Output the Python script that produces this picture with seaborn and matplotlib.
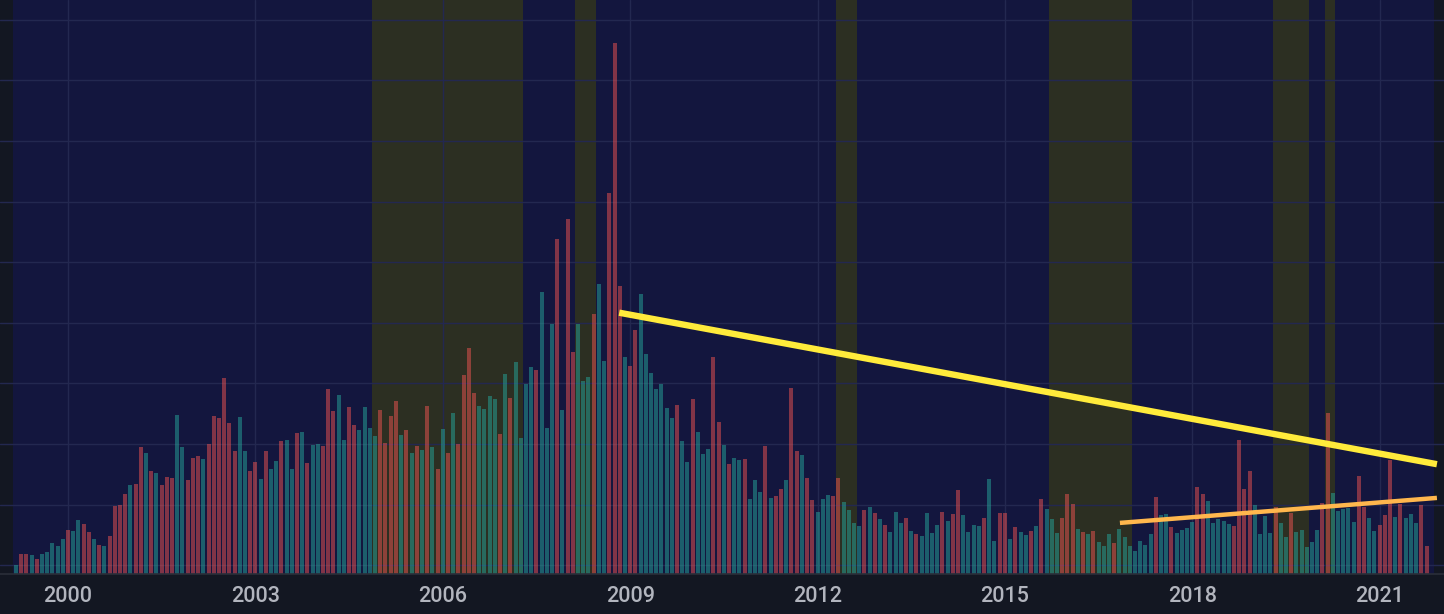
import matplotlib
matplotlib.use("Agg")
import matplotlib.pyplot as plt
import numpy as np
import pandas as pd
import seaborn as sns

# monthly volume bars, first bar = Mar 1999 (month index -10, Jan 2000 = 0)
first_month = -10
volume = [
    9, 20, 20, 19, 15, 20, 22, 31, 28, 35, 44, 43, 54, 50, 42, 35, 29, 28, 38, 68,
    69, 80, 89, 90, 127, 121, 103, 101, 89, 97, 96, 159, 127, 94, 116, 118, 115, 130, 158, 156,
    196, 151, 123, 157, 123, 103, 112, 95, 123, 105, 113, 133, 134, 105, 141, 142, 111, 129, 130, 128,
    185, 163, 179, 134, 167, 149, 144, 167, 146, 138, 164, 131, 158, 173, 139, 144, 121, 128, 124, 168,
    127, 105, 145, 121, 161, 130, 199, 226, 181, 168, 165, 178, 175, 140, 200, 176, 212, 136, 190, 207,
    204, 282, 146, 250, 335, 164, 355, 222, 250, 193, 197, 260, 290, 213, 381, 531, 288, 217, 208, 244,
    280, 220, 201, 185, 190, 166, 156, 169, 133, 112, 175, 142, 120, 125, 217, 152, 129, 110, 116, 114,
    115, 75, 94, 82, 128, 76, 78, 85, 94, 186, 123, 119, 96, 74, 62, 75, 79, 78, 96, 72,
    64, 51, 48, 64, 67, 61, 55, 49, 42, 62, 51, 56, 43, 40, 38, 61, 41, 49, 62, 53,
    60, 84, 59, 42, 49, 48, 56, 95, 33, 61, 61, 35, 47, 42, 39, 43, 48, 75, 65, 55,
    41, 56, 80, 70, 45, 42, 40, 43, 32, 28, 40, 31, 45, 37, 28, 23, 33, 29, 40, 77,
    59, 60, 47, 41, 44, 46, 52, 87, 80, 73, 51, 55, 53, 50, 48, 134, 85, 103, 69, 40,
    58, 41, 67, 51, 37, 61, 42, 44, 27, 32, 44, 71, 161, 81, 63, 65, 66, 52, 98, 67,
    56, 43, 49, 59, 114, 57, 70, 56, 60, 51, 69, 28,
]
# t = up month (teal), r = down month (red); rows match the volume rows
direction = "".join([
    "trrtrtttttrttrrtrtrr",
    "rrtrrtrtrrrttrrrtrrr",
    "rrrttrrtrttrttrtrttr",
    "rrttrrttttrrrrtrtrtr",
    "trtrtrrrrttttrtrtttt",
    "rtttrtrrtttrttrrrtrr",
    "tttttttrttrtttrrtrtt",
    "rtttrtrrtrrtrrtttrrt",
    "tttrtrtrtttrtrttttrt",
    "rrttttrttrrtrttrtrtt",
    "trrrtrtrtttrtttttttr",
    "ttrttttrrtttttrrrrtt",
    "ttrttrtttttrrtttttrr",
    "ttrrrtrtttrr",
])

# shaded periods (month index, bar edges)
shade_start = [58.5, 97.5, 147.5, 188.5, 231.5, 241.5]
shade_end = [87.5, 101.5, 151.5, 204.5, 238.5, 243.5]

# trend lines (month index, volume level)
yellow_x = [105.9, 263.0]
yellow_y = [260.8, 109.3]
orange_x = [202.1, 263.0]
orange_y = [50.6, 75.6]

year_labels = ["2000", "2003", "2006", "2009", "2012", "2015", "2018", "2021"]

TEAL = "#26a69a"
RED = "#ef5350"
BG = "#131722"
NAVY = "#13163e"
OLIVE = "#2c2f22"

n = len(volume)
df = pd.DataFrame({
    "month": np.arange(first_month, first_month + n),
    "volume": volume,
    "dir": list(direction),
})

sns.set_style("dark")
plt.rcParams["font.family"] = ["Roboto", "DejaVu Sans"]

fig = plt.figure(figsize=(14.44, 6.14), dpi=100, facecolor=BG)
ax = fig.add_axes([0, 40.5 / 614, 1, 573.5 / 614])
ax.set_facecolor(BG)

ax.axvspan(first_month - 0.5, first_month + n + 0.4, color=NAVY, zorder=0.1, lw=0)
for s, e in zip(shade_start, shade_end):
    ax.axvspan(s, e, color=OLIVE, zorder=0.2, lw=0)

# semi-transparent volume bars, so the shading shows through
sns.barplot(
    data=df, x="month", y="volume", hue="dir",
    palette={"t": TEAL, "r": RED}, native_scale=True, width=0.77,
    dodge=False, saturation=1, legend=False, errorbar=None,
    linewidth=0, alpha=0.5, ax=ax,
)

ax.plot(yellow_x, yellow_y, color="#ffeb3b", lw=4.6, solid_capstyle="butt", zorder=3)
ax.plot(orange_x, orange_y, color="#ffb74d", lw=3.2, solid_capstyle="butt", zorder=3)

ax.set_xlim(-13.06, 264.36)
ax.set_ylim(0, 573.5)
ax.set_xticks(np.arange(0, 36 * len(year_labels), 36))
ax.set_xticklabels(year_labels, fontweight="medium")
ax.set_yticks(8.3 + 60.6 * np.arange(10))
ax.set_yticklabels([])
ax.set_axisbelow(True)
ax.grid(True, color="#232850", lw=1, zorder=0.5)
ax.tick_params(axis="both", length=0)
ax.tick_params(axis="x", colors="#b2b5be", labelsize=15.5, pad=9)
ax.set_xlabel("")
ax.set_ylabel("")
for side in ["top", "left", "right"]:
    ax.spines[side].set_visible(False)
ax.spines["bottom"].set_color("#2a2e39")
ax.spines["bottom"].set_linewidth(1.2)

fig.savefig("out.png", dpi=100, facecolor=BG)
